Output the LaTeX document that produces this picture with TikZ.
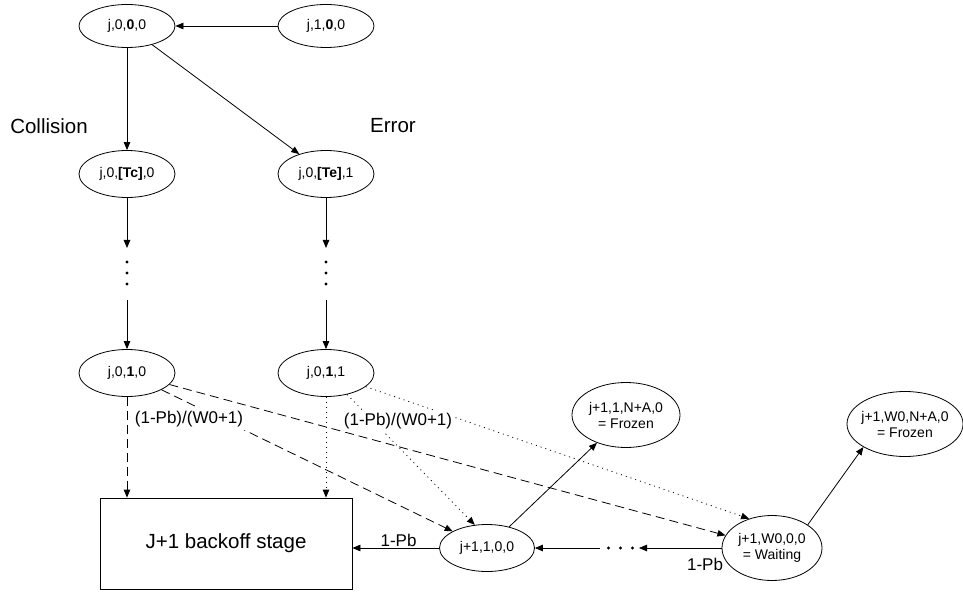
\documentclass[tikz,border=0pt]{standalone}
\usepackage{fontspec}
\setmainfont{Liberation Sans}
\usetikzlibrary{shapes.geometric,arrows.meta}
\begin{document}
\begin{tikzpicture}[x=1pt,y=-1pt,
  st/.style={ellipse,draw,line width=0.8pt,inner sep=0pt,font=\fontsize{14}{16}\selectfont,align=center},
  arr/.style={-{Triangle[length=8pt,width=6.5pt]},line width=0.8pt},
  dsh/.style={arr,dash pattern=on 9pt off 5pt},
  dtt/.style={arr,dash pattern=on 1pt off 4pt},
  lbl/.style={font=\fontsize{17}{20}\selectfont,inner sep=1pt},
  big/.style={font=\fontsize{20.5}{24}\selectfont},
  vdot/.style={circle,fill,inner sep=0pt,minimum size=3.2pt}
]
\useasboundingbox (0,0) rectangle (963,593);

% states
\node[st,minimum width=96pt,minimum height=43pt] (a) at (127,26) {j,0,\textbf{0},0};
\node[st,minimum width=96pt,minimum height=43pt] (b) at (326,26) {j,1,\textbf{0},0};
\node[st,minimum width=96pt,minimum height=47pt] (tc) at (127,174) {j,0,\textbf{[Tc]},0};
\node[st,minimum width=96pt,minimum height=47pt] (te) at (326,174) {j,0,\textbf{[Te]},1};
\node[st,minimum width=96pt,minimum height=47pt] (c10) at (127,373) {j,0,\textbf{1},0};
\node[st,minimum width=96pt,minimum height=47pt] (c11) at (326,373) {j,0,\textbf{1},1};
\node[draw,line width=0.8pt,minimum width=252pt,minimum height=91pt,big] (box) at (226,543.5) {J+1 backoff stage};
\node[st,minimum width=95pt,minimum height=47pt] (s1) at (487,548) {j+1,1,0,0};
\node[st,minimum width=108pt,minimum height=65pt] (f1) at (626,415) {j+1,1,N+A,0\\= Frozen};
\node[st,minimum width=100pt,minimum height=65pt] (w) at (772,548) {j+1,W0,0,0\\= Waiting};
\node[st,minimum width=116pt,minimum height=65pt,inner xsep=-5pt] (f2) at (905,424) {j+1,W0,N+A,0\\= Frozen};

% side labels
\node[big] (col) at (49,126) {Collision};
\node[big] (err) at (393,126) {Error};

% vertical dot chains
\coordinate (tcd) at (127,248);
\coordinate (tcu) at (127,300);
\coordinate (ted) at (326,248);
\coordinate (teu) at (326,300);
\node[vdot] (d1) at (127,262) {};
\node[vdot] (d2) at (127,273) {};
\node[vdot] (d3) at (127,284) {};
\node[vdot] (e1) at (326,262) {};
\node[vdot] (e2) at (326,273) {};
\node[vdot] (e3) at (326,284) {};

% horizontal dot chain
\coordinate (hl) at (600,548);
\coordinate (hr) at (639,548);
\node[vdot] (h1) at (608.5,548) {};
\node[vdot] (h2) at (620.5,548) {};
\node[vdot] (h3) at (632.5,548) {};

% solid connectors
\draw[arr] (b) -- (a);
\draw[arr] (a) -- (tc);
\draw[arr] (a) -- (te);
\draw[arr] (tc) -- (tcd);
\draw[arr] (tcu) -- (c10);
\draw[arr] (te) -- (ted);
\draw[arr] (teu) -- (c11);
\draw[arr] (s1) -- (f1);
\draw[arr] (w.33) -- (f2.209);
\draw[arr] (s1.west) -- (s1.west -| box.east);
\draw[arr] (w.west) -- (hr);
\draw[arr] (hl) -- (s1.east);

% dashed / dotted connectors
\draw[dsh] (c10) -- (c10 |- box.north);
\draw[dtt] (c11) -- (c11 |- box.north);
\draw[dsh] (c10) -- (s1);
\draw[dsh] (c10) -- (w);
\draw[dtt] (c11) -- (s1.118);
\draw[dtt] (c11) -- (w.128);

% labels
\node[lbl,fill=white,inner sep=3pt] (p1) at (189,419) {(1-Pb)/(W0+1)};
\node[lbl,fill=white,inner sep=3pt] (p2) at (398,421) {(1-Pb)/(W0+1)};
\node[lbl] (q1) at (398.5,540) {1-Pb};
\node[lbl] (q2) at (705,564) {1-Pb};
\end{tikzpicture}
\end{document}
